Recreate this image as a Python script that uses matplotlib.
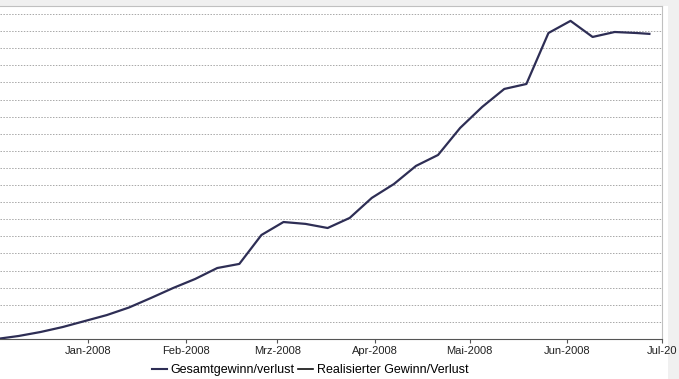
import matplotlib
matplotlib.use("Agg")
import matplotlib.pyplot as plt
from matplotlib.lines import Line2D
from matplotlib.patches import Rectangle
import numpy as np
import pandas as pd

plt.rcParams['font.family'] = ['Liberation Sans', 'DejaVu Sans']

# weekly values (y axis units unknown, grid step = 1000)
dates = pd.to_datetime([
    '2007-12-03', '2007-12-10', '2007-12-17', '2007-12-24', '2007-12-31',
    '2008-01-07', '2008-01-14', '2008-01-21', '2008-01-28', '2008-02-04',
    '2008-02-11', '2008-02-18', '2008-02-25', '2008-03-03', '2008-03-10',
    '2008-03-17', '2008-03-24', '2008-03-31', '2008-04-07', '2008-04-14',
    '2008-04-21', '2008-04-28', '2008-05-05', '2008-05-12', '2008-05-19',
    '2008-05-26', '2008-06-02', '2008-06-09', '2008-06-16', '2008-06-23',
    '2008-06-27'])
gesamt = [0, 175, 410, 700, 1050,
          1400, 1840, 2400, 2980, 3510,
          4150, 4390, 6080, 6840, 6730,
          6490, 7080, 8250, 9060, 10120,
          10760, 12340, 13570, 14620, 14910,
          17890, 18600, 17660, 17950, 17890,
          17840]

month_ticks = pd.to_datetime(['2008-01-01', '2008-02-01', '2008-03-01', '2008-04-01',
                              '2008-05-01', '2008-06-01', '2008-07-01'])
month_labels = ['Jan-2008', 'Feb-2008', 'Mrz-2008', 'Apr-2008', 'Mai-2008', 'Jun-2008', 'Jul-20']
series_names = ['Gesamtgewinn/verlust', 'Realisierter Gewinn/Verlust']

W, H = 679, 379
fig = plt.figure(figsize=(W / 100, H / 100), dpi=100, facecolor='#f0f0f0')
# white panel behind the chart
fig.patches.append(Rectangle((0, 0), 668 / W, (H - 6) / H, transform=fig.transFigure,
                             facecolor='white', edgecolor='none', zorder=-10))

ax = fig.add_axes([0, 40 / H, 662 / W, 333 / H])
ax.set_facecolor('white')

line_color = '#2e2e55'
ax.plot(dates, gesamt, color=line_color, linewidth=1.6, zorder=3)

ax.set_xlim(pd.Timestamp('2007-12-04 03:00'), pd.Timestamp('2008-07-01'))
ax.set_ylim(0, 19470)

ax.set_yticks(np.arange(0, 19001, 1000))
ax.tick_params(axis='y', left=False, labelleft=False)
ax.grid(axis='y', color='#a8a8a8', linestyle=(0, (1.5, 1.5)), linewidth=0.7)

ax.set_xticks(month_ticks)
ax.set_xticklabels(month_labels, fontsize=8, color='#222222')
ax.tick_params(axis='x', length=3, color='#555555', pad=2)

ax.spines['left'].set_visible(False)
ax.spines['top'].set_color('#c0c0c0')
ax.spines['right'].set_color('#c0c0c0')
ax.spines['bottom'].set_color('#555555')

handles = [Line2D([], [], color=line_color, linewidth=1.5),
           Line2D([], [], color='#111111', linewidth=1.2)]
fig.legend(handles, series_names, loc='center', bbox_to_anchor=(310 / W, 9 / H),
           ncol=2, frameon=False, fontsize=9, handlelength=1.2, handletextpad=0.3,
           columnspacing=0.3)

fig.savefig('out.png', dpi=100, facecolor=fig.get_facecolor())
